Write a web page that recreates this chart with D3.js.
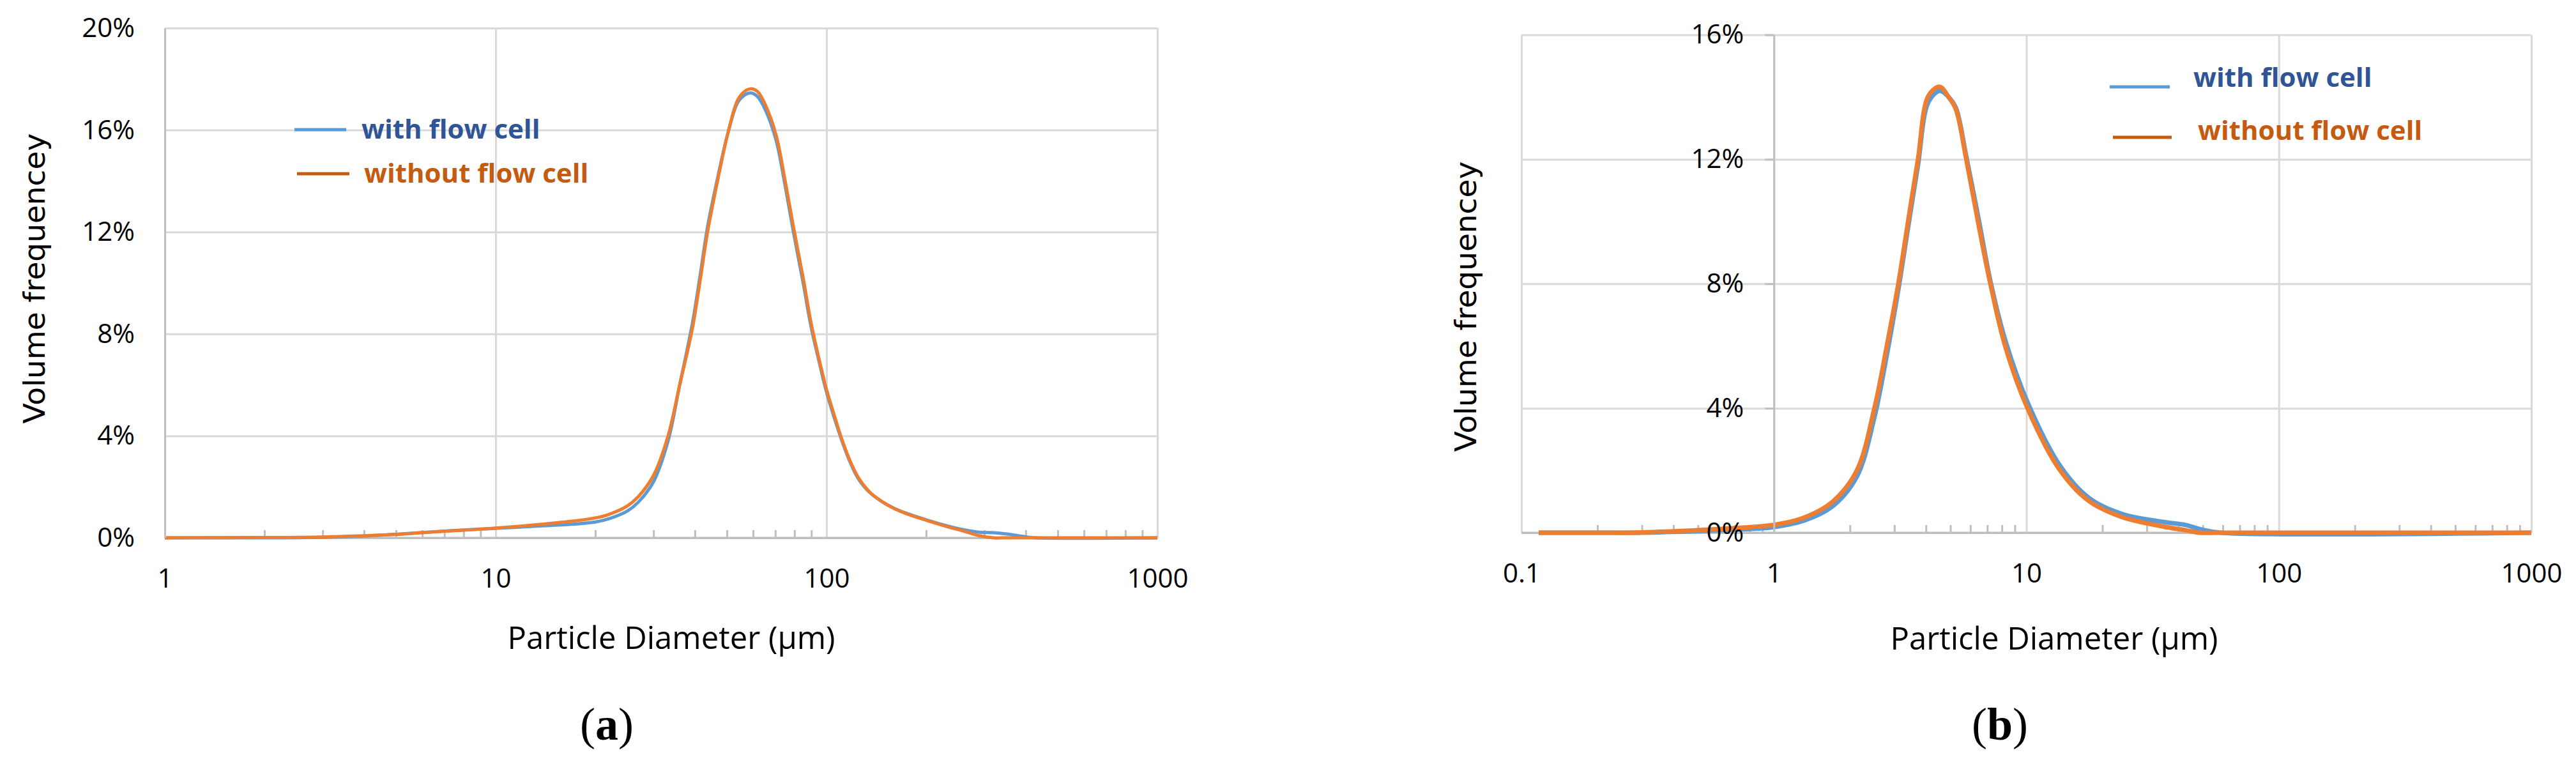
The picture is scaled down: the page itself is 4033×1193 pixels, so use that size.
<!DOCTYPE html>
<html>
<head>
<meta charset="utf-8">
<script src="https://cdn.jsdelivr.net/npm/d3@7"></script>
<style>
  body { margin: 0; background: #fff; }
  .tick text { font-family: "Open Sans", sans-serif; font-size: 42px; fill: #000; }
  .grid line { stroke: #d9d9d9; stroke-width: 3; }
  .grid path { display: none; }
  .axis path, .axis line { stroke: #bfbfbf; stroke-width: 3; }
  .ytitle { font-family: "DejaVu Sans", sans-serif; font-size: 47px; }
  .xtitle { font-family: "Open Sans", sans-serif; font-size: 49px; }
  .legend { font-family: "Open Sans", sans-serif; font-weight: bold; font-size: 42px; }
  .caption { font-family: "Liberation Serif", serif; font-size: 72px; }
</style>
</head>
<body>
<svg id="chart" width="4033" height="1193"></svg>
<script>
// data: particle diameter (µm) and volume frequency (%)
var sizesA = [1, 2, 3, 4, 5, 6, 8, 10, 13, 17, 20, 22, 25, 27, 30, 33.2, 36, 39.3, 41.5, 43.7, 47, 50.4, 54, 57, 59.4, 62, 65.3, 70.4, 75, 79.7, 85, 89.9, 95, 99.6, 105, 111.7, 118, 125, 135, 148, 160, 173, 201, 230, 259, 290, 320, 350, 400, 430, 1000];
var withCellA = [0, 0, 0.02, 0.07, 0.14, 0.21, 0.31, 0.37, 0.45, 0.53, 0.62, 0.75, 1.05, 1.4, 2.2, 3.8, 6.0, 8.4, 10.3, 12.2, 14.2, 15.9, 17.1, 17.4, 17.45, 17.3, 16.8, 15.6, 13.8, 11.9, 10.0, 8.25, 6.9, 5.8, 4.8, 3.75, 2.95, 2.3, 1.78, 1.4, 1.16, 0.98, 0.7, 0.48, 0.32, 0.22, 0.2, 0.15, 0.04, 0, 0];
var withoutCellA = [0, 0.01, 0.03, 0.08, 0.13, 0.2, 0.3, 0.38, 0.5, 0.65, 0.78, 0.92, 1.25, 1.62, 2.45, 4.0, 6.0, 8.2, 10.1, 12.0, 14.1, 15.9, 17.2, 17.55, 17.62, 17.5, 17.0, 15.8, 14.0, 12.1, 10.2, 8.4, 7.0, 5.9, 4.9, 3.8, 3.0, 2.35, 1.8, 1.4, 1.15, 0.96, 0.68, 0.45, 0.27, 0.08, 0, 0, 0, 0, 0];

var sizesB = [0.117, 0.2, 0.3, 0.5, 0.7, 1.0, 1.33, 1.71, 2.13, 2.5, 2.8, 3.11, 3.4, 3.72, 4.1, 4.54, 4.92, 5.26, 5.78, 6.5, 7.2, 8.24, 10.1, 13.6, 17.8, 24, 34.7, 42.7, 48.5, 59, 1000];
var withCellB = [0, 0, 0, 0.05, 0.1, 0.18, 0.4, 0.85, 1.8, 3.7, 5.7, 7.8, 9.8, 11.8, 13.85, 14.2, 14.0, 13.65, 12.1, 10.0, 8.1, 6.2, 4.2, 2.15, 1.1, 0.6, 0.35, 0.25, 0.12, 0, 0];
var withoutCellB = [0, 0, 0.01, 0.08, 0.15, 0.25, 0.5, 1.0, 2.0, 4.0, 6.0, 8.0, 10.0, 12.0, 14.05, 14.33, 14.0, 13.6, 12.0, 9.8, 8.0, 6.0, 4.0, 2.0, 1.0, 0.5, 0.2, 0.08, 0, 0, 0];

var xTicksA = [1, 10, 100, 1000];
var xTicksB = [0.1, 1, 10, 100, 1000];
var yTicksA = [0, 4, 8, 12, 16, 20];
var yTicksB = [0, 4, 8, 12, 16];

var seriesNames = ['with flow cell', 'without flow cell'];
var lineColors = ['#5b9bd5', '#ed7d31'];
var legendLineColors = ['#5b9bd5', '#c55a11'];
var legendTextColors = ['#2f5597', '#c55a11'];

var svg = d3.select('#chart');

function drawPanel(p) {
  var x = d3.scaleLog().domain(p.xDomain).range([p.left, p.right]);
  var y = d3.scaleLinear().domain([0, p.yTicks[p.yTicks.length - 1]]).range([p.bottom, p.top]);
  var g = svg.append('g');

  // horizontal grid
  g.append('g')
    .attr('class', 'grid')
    .attr('transform', `translate(${p.left},0)`)
    .call(d3.axisLeft(y).tickValues(p.yTicks).tickSize(-(p.right - p.left)).tickFormat(''));

  // vertical grid at decades
  g.append('g')
    .attr('class', 'grid')
    .attr('transform', `translate(0,${p.bottom})`)
    .call(d3.axisBottom(x).tickValues(p.xTicks).tickSize(-(p.bottom - p.top)).tickFormat(''));

  // minor ticks pointing up from the x axis
  var minor = x.ticks().filter(function (d) { return p.xTicks.indexOf(d) < 0; });
  g.append('g')
    .attr('class', 'axis')
    .attr('transform', `translate(0,${p.bottom})`)
    .call(d3.axisBottom(x).tickValues(minor).tickSize(-12).tickSizeOuter(0).tickFormat(''));

  // x axis labels
  var xAxis = g.append('g')
    .attr('class', 'axis')
    .attr('transform', `translate(0,${p.bottom})`)
    .call(d3.axisBottom(x).tickValues(p.xTicks).tickSize(0).tickPadding(48)
      .tickFormat(function (d) { return String(d); }));
  xAxis.select('.domain').remove();

  // x axis line
  g.append('line')
    .attr('x1', p.left).attr('x2', p.right)
    .attr('y1', p.bottom).attr('y2', p.bottom)
    .attr('stroke', '#bfbfbf').attr('stroke-width', 3);

  var line = d3.line()
    .x(function (d) { return x(d[0]); })
    .y(function (d) { return y(d[1]); })
    .curve(d3.curveCatmullRom.alpha(0.5));

  p.series.forEach(function (vals, i) {
    g.append('path')
      .datum(p.sizes.map(function (s, k) { return [s, vals[k]]; }))
      .attr('fill', 'none')
      .attr('stroke', lineColors[i])
      .attr('stroke-width', p.lineWidth)
      .attr('stroke-linejoin', 'round')
      .attr('d', line);
  });

  // y axis, crossing the x axis at 1 µm
  g.append('g')
    .attr('class', 'axis')
    .attr('transform', `translate(${x(1)},0)`)
    .call(d3.axisLeft(y).tickValues(p.yTicks).tickSize(p.yTickSize).tickSizeOuter(0)
      .tickPadding(47 - p.yTickSize)
      .tickFormat(function (d) { return d + '%'; }));

  // legend
  seriesNames.forEach(function (name, i) {
    var L = p.legend[i];
    g.append('line')
      .attr('x1', L.x1).attr('x2', L.x2)
      .attr('y1', L.ly).attr('y2', L.ly)
      .attr('stroke', legendLineColors[i]).attr('stroke-width', 5);
    g.append('text')
      .attr('class', 'legend')
      .attr('x', L.tx).attr('y', L.ty)
      .attr('fill', legendTextColors[i])
      .text(name);
  });

  g.append('text')
    .attr('class', 'ytitle')
    .attr('transform', `translate(${p.yTitle[0]},${p.yTitle[1]}) rotate(-90)`)
    .attr('text-anchor', 'middle')
    .text('Volume frequencey');

  g.append('text')
    .attr('class', 'xtitle')
    .attr('x', p.xTitle[0]).attr('y', p.xTitle[1])
    .attr('text-anchor', 'middle')
    .text('Particle Diameter (µm)');

  var cap = g.append('text')
    .attr('class', 'caption')
    .attr('x', p.caption[0]).attr('y', p.caption[1])
    .attr('text-anchor', 'middle');
  cap.append('tspan').text('(');
  cap.append('tspan').attr('font-weight', 'bold').text(p.letter);
  cap.append('tspan').text(')');
}

drawPanel({
  left: 258, right: 1812, top: 44, bottom: 842,
  xDomain: [1, 1000], xTicks: xTicksA, yTicks: yTicksA, yTickSize: 0,
  sizes: sizesA, series: [withCellA, withoutCellA], lineWidth: 5,
  legend: [
    {x1: 461, x2: 542, ly: 203, tx: 566, ty: 217},
    {x1: 465, x2: 547, ly: 272, tx: 570, ty: 286}
  ],
  yTitle: [70, 436], xTitle: [1051, 1016], caption: [950, 1158], letter: 'a'
});

drawPanel({
  left: 2382, right: 3963, top: 54.5, bottom: 834,
  xDomain: [0.1, 1000], xTicks: xTicksB, yTicks: yTicksB, yTickSize: 14,
  sizes: sizesB, series: [withCellB, withoutCellB], lineWidth: 7,
  legend: [
    {x1: 3303, x2: 3397, ly: 136, tx: 3434, ty: 136},
    {x1: 3308, x2: 3400, ly: 215, tx: 3441, ty: 219}
  ],
  yTitle: [2311, 480], xTitle: [3216, 1017], caption: [3131, 1158], letter: 'b'
});
</script>
</body>
</html>
